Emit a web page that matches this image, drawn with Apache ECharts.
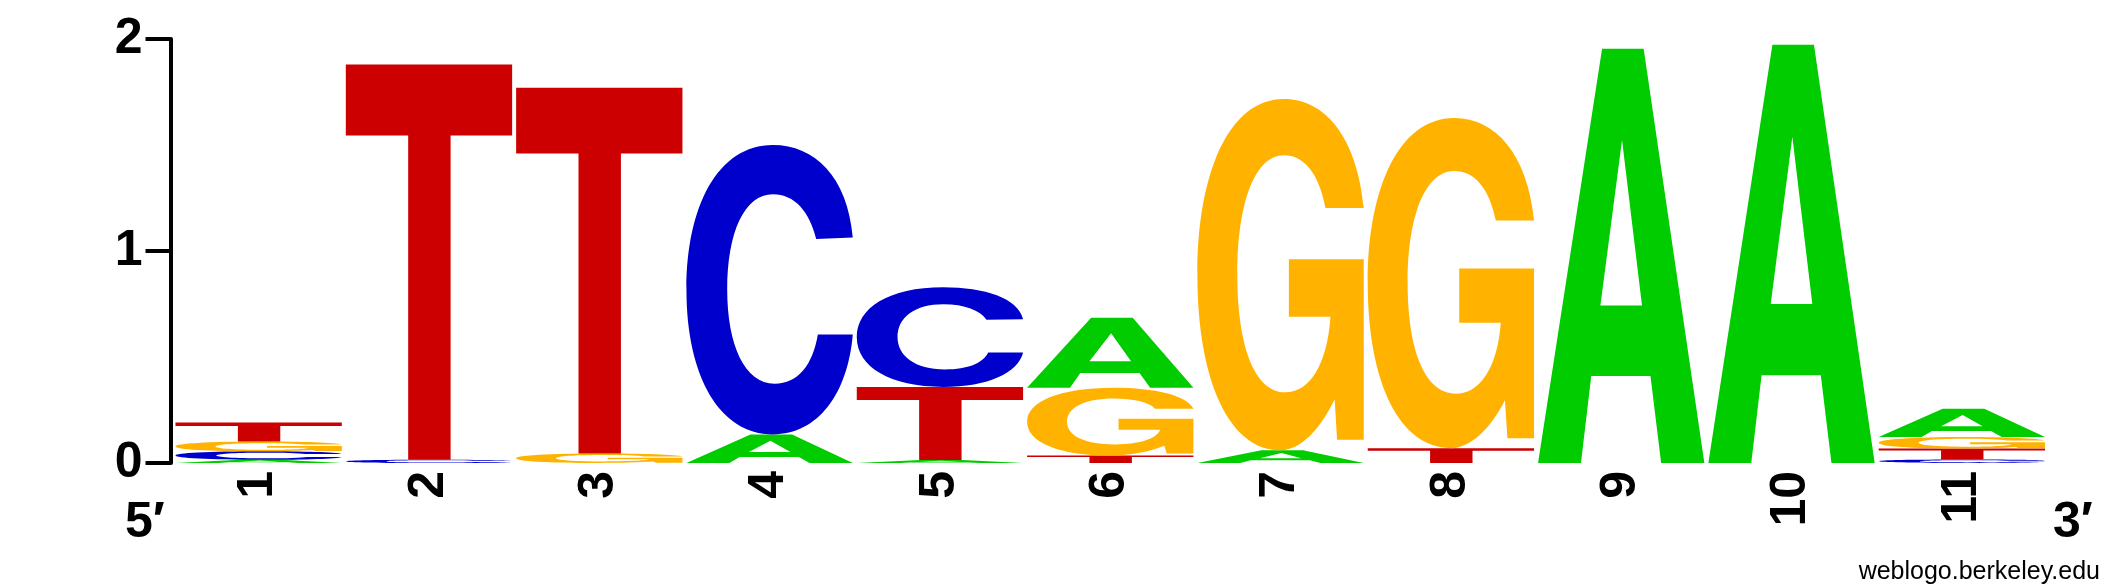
<!DOCTYPE html>
<html>
<head>
<meta charset="utf-8">
<title>weblogo</title>
<script src="https://cdn.jsdelivr.net/npm/echarts@6/dist/echarts.min.js"></script>
<style>
html,body{margin:0;padding:0;background:#fff;}
#chart{width:2125px;height:588px;}
</style>
</head>
<body>
<div id="chart"></div>
<script>
// 位置标签
var positions = ['1','2','3','4','5','6','7','8','9','10','11'];
// 每个位置上各碱基的高度(bits)
var bitsA = [0.015, 0,     0,     0.135, 0.014, 0.33,  0.06,  0,     1.954, 1.973, 0.133];
var bitsC = [0.04,  0.015, 0,     1.365, 0.47,  0,     0,     0,     0,     0,     0.016];
var bitsG = [0.046, 0,     0.045, 0,     0,     0.32,  1.657, 1.557, 0,     0,     0.055];
var bitsT = [0.09,  1.865, 1.725, 0,     0.345, 0.035, 0,     0.07,  0,     0,     0.052];
var yTicks = [0, 1, 2];

var LETTERS = ['A','C','G','T'];
var LETTER_COLORS = {A:'#00CC00', C:'#0000CC', G:'#FFB300', T:'#CC0000'};
//字母轮廓，归一化到0..1的方框里，渲染时拉伸到格子大小
var LETTER_PATHS = {
	A: 'M0,1 L0.385,0 L0.635,0 L1,1 L0.74,1 L0.676,0.79 L0.32,0.79 L0.258,1 Z ' +
	   'M0.375,0.62 L0.625,0.62 L0.505,0.22 Z',
	C: 'M1,0.32 C0.97,0.11 0.77,0 0.52,0 C0.19,0 0,0.21 0,0.5 C0,0.8 0.2,1 0.52,1 ' +
	   'C0.79,1 0.97,0.86 1,0.655 L0.79,0.655 C0.76,0.76 0.67,0.825 0.53,0.825 ' +
	   'C0.35,0.825 0.245,0.69 0.245,0.5 C0.245,0.3 0.35,0.17 0.52,0.17 ' +
	   'C0.65,0.17 0.74,0.23 0.78,0.325 Z',
	G: 'M1,0.31 C0.96,0.11 0.77,0 0.52,0 C0.19,0 0,0.21 0,0.5 C0,0.8 0.19,1 0.5,1 ' +
	   'C0.62,1 0.74,0.94 0.825,0.855 L0.84,0.97 L1,0.97 L1,0.456 L0.55,0.456 L0.55,0.62 ' +
	   'L0.80,0.62 C0.78,0.76 0.67,0.835 0.53,0.835 C0.34,0.835 0.24,0.7 0.24,0.5 ' +
	   'C0.24,0.29 0.35,0.16 0.52,0.16 C0.64,0.16 0.73,0.21 0.77,0.31 Z',
	T: 'M0,0 L1,0 L1,0.18 L0.63,0.18 L0.63,1 L0.375,1 L0.375,0.18 L0,0.18 Z'
};
var LETTER_GAP = 4;//相邻两列字母之间的空隙(px)
var FONT = '"Liberation Sans", Arial, Helvetica, sans-serif';

//把每一列的字母按高度从小到大堆叠起来
function buildStacks()
{
	var bits = {A:bitsA, C:bitsC, G:bitsG, T:bitsT};
	var data = [];
	for(var i=0;i<positions.length;i++)
	{
		var col = [];
		for(var j=0;j<LETTERS.length;j++)
		{
			var h = bits[LETTERS[j]][i];
			if(h > 0)
			{
				col.push({idx:j, h:h});
			}
		}
		col.sort(function(a,b){return a.h - b.h;});
		var base = 0;
		for(var k=0;k<col.length;k++)
		{
			data.push([i, base, base + col[k].h, col[k].idx]);
			base += col[k].h;
		}
	}
	return data;
}

function renderLetter(params, api)
{
	var col = api.value(0);
	var letter = LETTERS[api.value(3)];
	var p0 = api.coord([col, api.value(1)]);
	var p1 = api.coord([col, api.value(2)]);
	var w = api.size([1, 0])[0] - LETTER_GAP;
	return {
		type: 'path',
		shape: {
			pathData: LETTER_PATHS[letter],
			x: p0[0] - w / 2,
			y: p1[1],
			width: w,
			height: p0[1] - p1[1],
			layout: 'cover'
		},
		style: {fill: LETTER_COLORS[letter]}
	};
}

var myChart = echarts.init(document.getElementById('chart'), null, {renderer:'canvas'});
var option = {
	backgroundColor: '#fff',
	animation: false,
	grid: {left: 173.5, right: 78, top: 39, bottom: 125},
	xAxis: {
		type: 'category',
		data: positions,
		axisLine: {show: false},
		axisTick: {show: false},
		axisLabel: {
			rotate: 90,
			margin: 8,
			color: '#000',
			fontSize: 50,
			fontWeight: 'bold',
			fontFamily: FONT
		}
	},
	yAxis: {
		type: 'value',
		min: yTicks[0],
		max: yTicks[yTicks.length-1],
		interval: 1,
		offset: 3,
		axisLine: {show: true, lineStyle: {color: '#000', width: 4}},
		axisTick: {show: true, length: 25, lineStyle: {color: '#000', width: 4}},
		splitLine: {show: false},
		axisLabel: {
			margin: 28,
			color: '#000',
			fontSize: 50,
			fontWeight: 'bold',
			fontFamily: FONT
		}
	},
	series: [{
		type: 'custom',
		renderItem: renderLetter,
		encode: {x: 0, y: [1, 2]},
		data: buildStacks(),
		clip: false
	}],
	graphic: [
		{type:'text', x:125, y:523, style:{text:'5\u2032', font:'bold 50px ' + FONT, fill:'#000', verticalAlign:'middle'}},
		{type:'text', x:2053, y:523, style:{text:'3\u2032', font:'bold 50px ' + FONT, fill:'#000', verticalAlign:'middle'}},
		{type:'text', x:2100, y:572, style:{text:'weblogo.berkeley.edu', font:'25px ' + FONT, fill:'#000', align:'right', verticalAlign:'middle'}}
	]
};
myChart.setOption(option);
</script>
</body>
</html>
